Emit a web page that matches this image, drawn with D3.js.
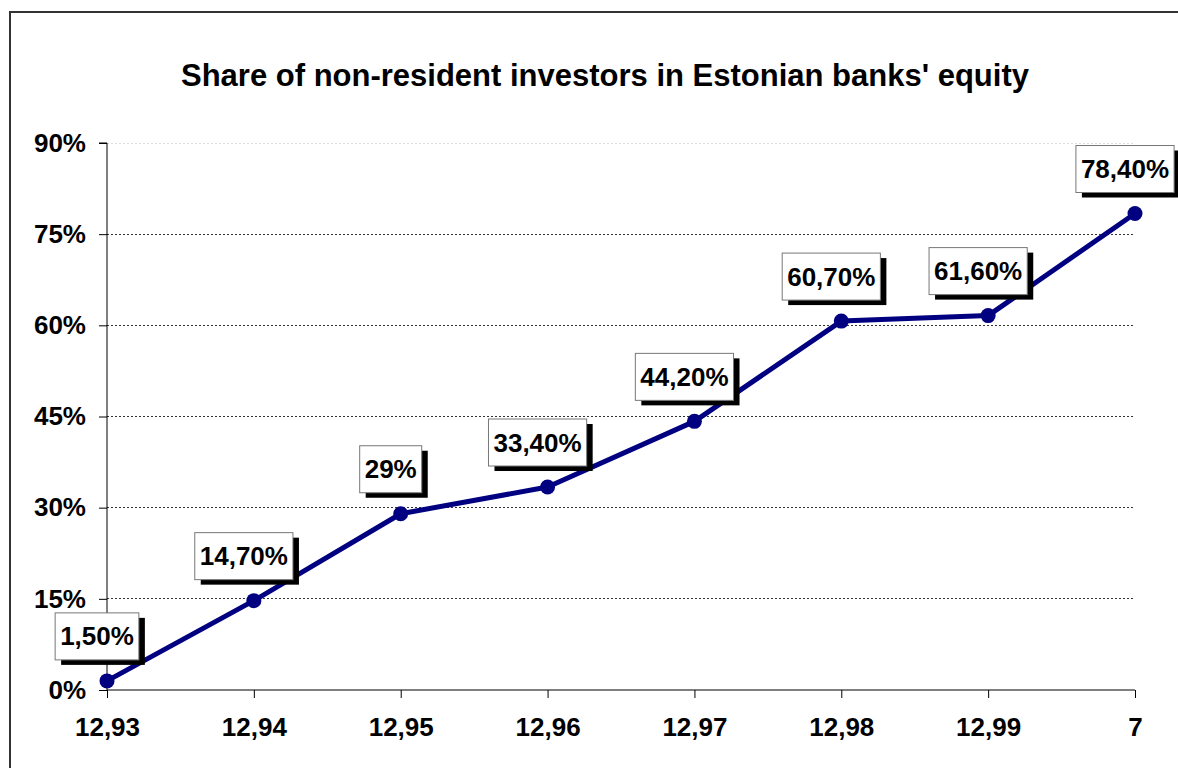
<!DOCTYPE html>
<html>
<head>
<meta charset="utf-8">
<script src="https://cdn.jsdelivr.net/npm/d3@7"></script>
<style>
  html, body { margin: 0; padding: 0; background: #fff; overflow: hidden; }
  svg { display: block; font-family: "Liberation Sans", Arial, sans-serif; }
</style>
</head>
<body>
<svg id="chart" width="1178" height="768"></svg>
<script>
const title = "Share of non-resident investors in Estonian banks' equity";
const categories = ["12,93", "12,94", "12,95", "12,96", "12,97", "12,98", "12,99", "7"];
const values = [1.5, 14.7, 29, 33.4, 44.2, 60.7, 61.6, 78.4];
const valueLabels = ["1,50%", "14,70%", "29%", "33,40%", "44,20%", "60,70%", "61,60%", "78,40%"];
const yTicks = [0, 15, 30, 45, 60, 75, 90];

const svg = d3.select("#chart");
const W = 1178, H = 768;
const plot = { left: 107, right: 1135, top: 143, bottom: 690 };
const FS = 26;

// outer chart border
svg.append("rect")
  .attr("x", 10).attr("y", 12)
  .attr("width", W + 20).attr("height", H + 20)
  .attr("fill", "#fff").attr("stroke", "#333").attr("stroke-width", 2);

// title
svg.append("text")
  .attr("x", 605).attr("y", 86)
  .attr("text-anchor", "middle")
  .attr("font-weight", "bold").attr("font-size", 31)
  .attr("fill", "#000")
  .text(title);

const x = d3.scalePoint().domain(categories).range([plot.left, plot.right]).padding(0);
const y = d3.scaleLinear().domain([0, 90]).range([plot.bottom, plot.top]);

// gridlines
svg.append("g").selectAll("line")
  .data(yTicks.filter(t => t > 0))
  .join("line")
  .attr("x1", plot.left).attr("x2", plot.right)
  .attr("y1", d => y(d)).attr("y2", d => y(d))
  .attr("stroke", d => d === 90 ? "#ddd" : "#333")
  .attr("stroke-width", 1)
  .attr("stroke-dasharray", "2,2")
  .attr("shape-rendering", "crispEdges");

// y axis
const yAxis = d3.axisLeft(y).tickValues(yTicks).tickFormat(d => d + "%").tickSize(8).tickPadding(13);
const gy = svg.append("g").attr("transform", `translate(${plot.left},0)`).call(yAxis);
gy.select(".domain").attr("stroke", "#000").attr("d", `M-8,${plot.top}H0V${plot.bottom}`);
gy.selectAll(".tick line").attr("stroke", "#000");
gy.selectAll(".tick text")
  .attr("font-size", FS).attr("font-weight", "bold")
  .attr("font-family", "'Liberation Sans', Arial, sans-serif")
  .attr("fill", "#000");

// x axis
const xAxis = d3.axisBottom(x).tickSize(8).tickPadding(20);
const gx = svg.append("g").attr("transform", `translate(0,${plot.bottom})`).call(xAxis);
gx.select(".domain").attr("stroke", "#000").attr("d", `M${plot.left},0H${plot.right}`);
gx.selectAll(".tick line").attr("stroke", "#000");
gx.selectAll(".tick text")
  .attr("font-size", FS).attr("font-weight", "bold")
  .attr("font-family", "'Liberation Sans', Arial, sans-serif")
  .attr("fill", "#000");

const data = categories.map((c, i) => ({ c, v: values[i], label: valueLabels[i] }));

// line
const line = d3.line().x(d => x(d.c)).y(d => y(d.v));
svg.append("path")
  .datum(data)
  .attr("d", line)
  .attr("fill", "none")
  .attr("stroke", "#000080")
  .attr("stroke-width", 5)
  .attr("stroke-linejoin", "round");

// markers
svg.append("g").selectAll("circle")
  .data(data)
  .join("circle")
  .attr("cx", d => x(d.c)).attr("cy", d => y(d.v))
  .attr("r", 7.5)
  .attr("fill", "#000080");

// data labels
const lblG = svg.append("g");
data.forEach(d => {
  const g = lblG.append("g");
  const t = g.append("text")
    .attr("font-size", FS).attr("font-weight", "bold")
    .attr("text-anchor", "middle")
    .attr("fill", "#000")
    .text(d.label);
  const tw = t.node().getComputedTextLength();
  const bw = tw + 10, bh = 47;
  const cx = x(d.c) - 10;
  const bottom = y(d.v) - 21;
  const bx = cx - bw / 2, by = bottom - bh;
  g.insert("rect", "text")
    .attr("x", bx + 6).attr("y", by + 5)
    .attr("width", bw).attr("height", bh)
    .attr("fill", "#000");
  g.insert("rect", "text")
    .attr("x", bx).attr("y", by)
    .attr("width", bw).attr("height", bh)
    .attr("fill", "#fff").attr("stroke", "#777").attr("stroke-width", 1);
  t.attr("x", cx).attr("y", by + bh / 2 + 9);
});
</script>
</body>
</html>
